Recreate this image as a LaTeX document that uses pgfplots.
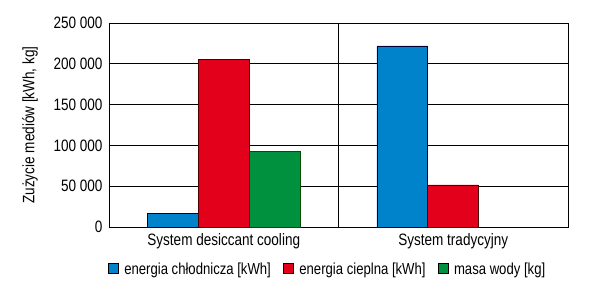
\documentclass[border=0pt]{standalone}
\usepackage{fontspec}
\setmainfont[FakeStretch=0.82]{Liberation Sans}
\usepackage{pgfplots}
\pgfplotsset{compat=1.18}

\definecolor{cblue}{RGB}{0,131,202}
\definecolor{cred}{RGB}{226,0,26}
\definecolor{cgreen}{RGB}{0,145,62}

\begin{document}
\begin{tikzpicture}
\useasboundingbox (-109pt,-63pt) rectangle (483pt,227pt);
\begin{axis}[
  scale only axis,
  width=459pt, height=204pt,
  xmin=-0.5, xmax=1.5,
  ymin=0, ymax=250000,
  xtick={0,1},
  xticklabels={System desiccant cooling, System tradycyjny},
  ytick={0,50000,100000,150000,200000,250000},
  yticklabels={0, 50 000, 100 000, 150 000, 200 000, 250 000},
  scaled y ticks=false,
  major tick length=0pt,
  ymajorgrids,
  grid style={black, line width=0.7pt},
  axis line style={black, line width=0.7pt},
  tick label style={font=\fontsize{16.5}{18}\selectfont},
  yticklabel style={xshift=-3pt},
  xticklabel style={yshift=-3pt},
  ylabel={Zużycie mediów [kWh, kg]},
  ylabel style={font=\fontsize{16.5}{18}\selectfont, yshift=9pt},
  bar width=0.222,
  legend style={at={(-0.003,-0.165)}, anchor=north west, draw=none,
    legend columns=-1, font=\fontsize{16}{18}\selectfont,
    inner sep=0pt,
    /tikz/every odd column/.append style={column sep=4pt},
    /tikz/every even column/.append style={column sep=10pt}},
  legend image code/.code={\draw[#1, draw=black, line width=0.5pt] (0pt,-4pt) rectangle (10pt,6pt);},
]
\addplot[ybar, bar shift=-0.222, fill=cblue, draw=black!80!blue, line width=0.6pt]
  coordinates {(0,17000) (1,222000)};
\addplot[ybar, bar shift=0, fill=cred, draw=black!70!red, line width=0.6pt]
  coordinates {(0,205000) (1,51500)};
\addplot[ybar, bar shift=0.222, fill=cgreen, draw=black!70!green, line width=0.6pt]
  coordinates {(0,92500)};
\legend{energia chłodnicza [kWh], energia cieplna [kWh], masa wody [kg]}
\draw[black, line width=0.7pt] (axis cs:0.5,0) -- (axis cs:0.5,250000);
\end{axis}
\end{tikzpicture}
\end{document}
